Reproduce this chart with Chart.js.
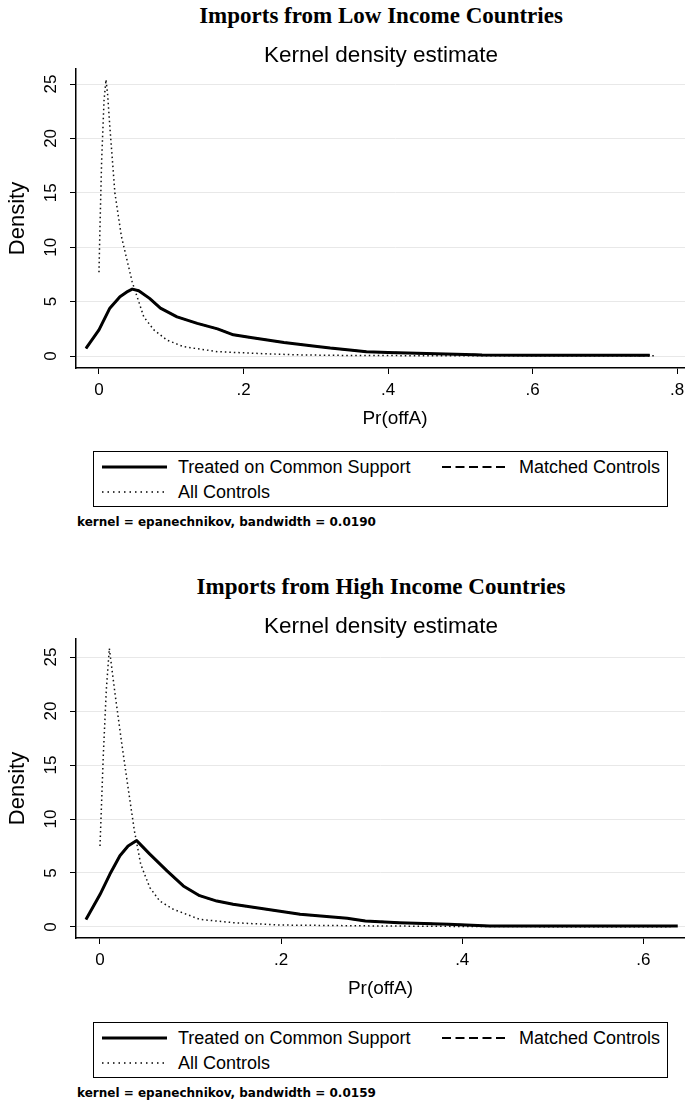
<!DOCTYPE html>
<html>
<head>
<meta charset="utf-8">
<script src="https://cdn.jsdelivr.net/npm/chart.js@4.4.1/dist/chart.umd.min.js"></script>
<style>
  html, body { margin: 0; padding: 0; width: 685px; height: 1105px; overflow: hidden; background: #fff; }
  .abs { position: absolute; line-height: 1; white-space: nowrap; color: #000; }
  .title { font-family: "Liberation Serif", serif; font-weight: bold; font-size: 23px; text-align: center; left: 0; width: 762px; }
  .subtitle { font-family: "Liberation Sans", Arial, sans-serif; font-size: 22.5px; text-align: center; left: 0; width: 762px; }
  .legbox { left: 93px; width: 575px; height: 56px; border: 1.5px solid #000; box-sizing: border-box; }
  .legtext { font-family: "Liberation Sans", Arial, sans-serif; font-size: 18px; }
  .note { font-family: "DejaVu Sans", sans-serif; font-size: 12px; font-weight: bold; left: 77px; }
  canvas { position: absolute; left: 0; }
</style>
</head>
<body>
<canvas id="lowChart" width="714" height="372" style="top:60px"></canvas>
<canvas id="highChart" width="685" height="372" style="top:630px"></canvas>
<script>
// --- data ---
const seriesNames = ["Treated on Common Support", "Matched Controls", "All Controls"];
const densityTicks = [0, 5, 10, 15, 20, 25];

// Imports from Low Income Countries
const lowXTicks = [0, 0.2, 0.4, 0.6, 0.8];
const lowTreatedX = [-0.018, 0.0, 0.015, 0.029, 0.04, 0.046, 0.055, 0.07, 0.085, 0.108, 0.136, 0.164, 0.186, 0.21, 0.256, 0.302, 0.32, 0.347, 0.37, 0.40, 0.44, 0.48, 0.52, 0.53, 0.6, 0.7, 0.762];
const lowTreatedY = [0.7, 2.4, 4.4, 5.45, 5.95, 6.15, 6.0, 5.3, 4.4, 3.6, 3.0, 2.5, 1.95, 1.7, 1.25, 0.88, 0.73, 0.55, 0.4, 0.32, 0.25, 0.18, 0.12, 0.09, 0.08, 0.08, 0.07];
const lowMatchedX = [-0.018, 0.0, 0.015, 0.029, 0.04, 0.046, 0.055, 0.07, 0.085, 0.108, 0.136, 0.164, 0.186, 0.21, 0.256, 0.302, 0.32, 0.347, 0.37, 0.40, 0.44, 0.48, 0.52, 0.53, 0.6, 0.7, 0.762];
const lowMatchedY = [0.7, 2.4, 4.4, 5.45, 5.95, 6.15, 6.0, 5.3, 4.4, 3.6, 3.0, 2.5, 1.95, 1.7, 1.25, 0.88, 0.73, 0.55, 0.4, 0.32, 0.25, 0.18, 0.12, 0.09, 0.08, 0.08, 0.07];
const lowAllX = [0.0, 0.0014, 0.0037, 0.007, 0.0097, 0.012, 0.015, 0.022, 0.031, 0.046, 0.062, 0.076, 0.094, 0.117, 0.164, 0.233, 0.28, 0.35, 0.45, 0.55, 0.65, 0.77];
const lowAllY = [7.7, 11.9, 18.0, 23.5, 25.4, 24.0, 21.1, 15.0, 11.0, 6.8, 3.6, 2.4, 1.47, 0.86, 0.4, 0.2, 0.1, 0.05, 0.03, 0.02, 0.02, 0.02];

// Imports from High Income Countries
const highXTicks = [0, 0.2, 0.4, 0.6];
const highTreatedX = [-0.0155, 0.0, 0.011, 0.022, 0.031, 0.0405, 0.055, 0.074, 0.092, 0.11, 0.129, 0.147, 0.184, 0.221, 0.273, 0.293, 0.33, 0.385, 0.43, 0.5, 0.6, 0.638];
const highTreatedY = [0.7, 3.0, 4.9, 6.6, 7.5, 8.0, 6.75, 5.2, 3.8, 2.9, 2.4, 2.1, 1.64, 1.18, 0.8, 0.56, 0.4, 0.25, 0.1, 0.1, 0.1, 0.1];
const highMatchedX = [-0.0155, 0.0, 0.011, 0.022, 0.031, 0.0405, 0.055, 0.074, 0.092, 0.11, 0.129, 0.147, 0.184, 0.221, 0.273, 0.293, 0.33, 0.385, 0.43, 0.5, 0.6, 0.638];
const highMatchedY = [0.7, 3.0, 4.9, 6.6, 7.5, 8.0, 6.75, 5.2, 3.8, 2.9, 2.4, 2.1, 1.64, 1.18, 0.8, 0.56, 0.4, 0.25, 0.1, 0.1, 0.1, 0.1];
const highAllX = [0.0, 0.0037, 0.007, 0.0103, 0.0166, 0.024, 0.031, 0.038, 0.045, 0.055, 0.066, 0.081, 0.11, 0.147, 0.2, 0.3, 0.4, 0.5, 0.63];
const highAllY = [7.5, 16.0, 22.0, 25.8, 21.6, 17.0, 12.9, 8.9, 5.8, 3.65, 2.4, 1.64, 0.71, 0.4, 0.18, 0.1, 0.05, 0.03, 0.02];

const sansFont = '"Liberation Sans", Arial, sans-serif';

function pts(xs, ys) {
  return xs.map((x, i) => ({ x: x, y: ys[i] }));
}

function fmtX(v) {
  if (v === 0) return "0";
  return String(+v.toFixed(1)).replace(/^0\./, ".");
}

function makeChart(id, xMin, xMax, yMin, yMax, xTicks, treated, matched, all) {
  new Chart(document.getElementById(id), {
    type: "line",
    data: {
      datasets: [
        { label: seriesNames[0], data: treated, borderColor: "#000", borderWidth: 3, order: 0 },
        { label: seriesNames[1], data: matched, borderColor: "#000", borderWidth: 1.8, borderDash: [7, 4], order: 1 },
        { label: seriesNames[2], data: all, borderColor: "#111", borderWidth: 1.5, borderDash: [1.5, 3], order: 2 },
      ],
    },
    options: {
      responsive: false,
      animation: false,
      devicePixelRatio: 1,
      layout: { padding: { top: 9, left: 0, right: 0, bottom: 0 } },
      elements: { point: { radius: 0 }, line: { tension: 0, borderJoinStyle: "round" } },
      plugins: { legend: { display: false }, title: { display: false }, tooltip: { enabled: false } },
      scales: {
        x: {
          type: "linear",
          min: xMin,
          max: xMax,
          afterBuildTicks: (s) => { s.ticks = xTicks.map((v) => ({ value: v })); },
          afterFit: (s) => { s.height = 64; s.paddingLeft = 0; s.paddingRight = 0; },
          grid: { drawOnChartArea: false, drawTicks: true, tickLength: 6, tickColor: "#000", tickWidth: 1 },
          border: { display: true, color: "#000", width: 1.5 },
          ticks: { autoSkip: false, maxRotation: 0, padding: 6, color: "#000", font: { family: sansFont, size: 17 }, callback: fmtX },
          title: { display: true, text: "Pr(offA)", color: "#000", font: { family: sansFont, size: 19 }, padding: { top: 0, bottom: 2 } },
        },
        y: {
          type: "linear",
          min: yMin,
          max: yMax,
          afterBuildTicks: (s) => { s.ticks = densityTicks.map((v) => ({ value: v })); },
          afterFit: (s) => { s.width = 76; s.paddingTop = 0; s.paddingBottom = 0; },
          grid: { color: "#e8e8e8", lineWidth: 1, drawTicks: true, tickLength: 6, tickColor: "#000", tickWidth: 1 },
          border: { display: true, color: "#000", width: 1.5 },
          ticks: { autoSkip: false, minRotation: 90, maxRotation: 90, crossAlign: "center", padding: 9.5, color: "#000", font: { family: sansFont, size: 17 } },
          title: { display: true, text: "Density", color: "#000", font: { family: sansFont, size: 22 }, padding: { top: 5, bottom: 0 } },
        },
      },
    },
  });
}

// legend box + footnote in Stata style
function addText(cls, text, left, top) {
  const d = document.createElement("div");
  d.className = "abs " + cls;
  d.textContent = text;
  if (left !== null) d.style.left = left + "px";
  d.style.top = top + "px";
  document.body.appendChild(d);
  return d;
}

function addSample(x1, x2, y, width, dash) {
  const ns = "http://www.w3.org/2000/svg";
  const svg = document.createElementNS(ns, "svg");
  svg.setAttribute("width", x2 - x1);
  svg.setAttribute("height", 8);
  svg.style.position = "absolute";
  svg.style.left = x1 + "px";
  svg.style.top = (y - 4) + "px";
  const ln = document.createElementNS(ns, "line");
  ln.setAttribute("x1", 0); ln.setAttribute("x2", x2 - x1);
  ln.setAttribute("y1", 4); ln.setAttribute("y2", 4);
  ln.setAttribute("stroke", "#000");
  ln.setAttribute("stroke-width", width);
  if (dash) ln.setAttribute("stroke-dasharray", dash);
  svg.appendChild(ln);
  document.body.appendChild(svg);
}

function makePanel(top, title, note) {
  // top = y of the main title centre
  addText("title", title, 0, top - 11.5);
  addText("subtitle", "Kernel density estimate", 0, top + 40 - 11);
  const box = document.createElement("div");
  box.className = "abs legbox";
  box.style.top = (top + 436) + "px";
  document.body.appendChild(box);
  addSample(102, 167, top + 452, 3, null);
  addText("legtext", seriesNames[0], 178, top + 452 - 9);
  addSample(442, 508, top + 452, 2, "9 4.5");
  addText("legtext", seriesNames[1], 519, top + 452 - 9);
  addSample(102, 167, top + 477, 1.4, "1.5 4");
  addText("legtext", seriesNames[2], 178, top + 477 - 9);
  addText("note", note, 77, top + 507 - 6);
}

makeChart("lowChart", -0.0318, 0.851, -1.10, 26.38, lowXTicks,
  pts(lowTreatedX, lowTreatedY), pts(lowMatchedX, lowMatchedY), pts(lowAllX, lowAllY));
makeChart("highChart", -0.0265, 0.646, -1.02, 26.67, highXTicks,
  pts(highTreatedX, highTreatedY), pts(highMatchedX, highMatchedY), pts(highAllX, highAllY));

makePanel(15, "Imports from Low Income Countries", "kernel = epanechnikov, bandwidth = 0.0190");
makePanel(586, "Imports from High Income Countries", "kernel = epanechnikov, bandwidth = 0.0159");
</script>
</body>
</html>
